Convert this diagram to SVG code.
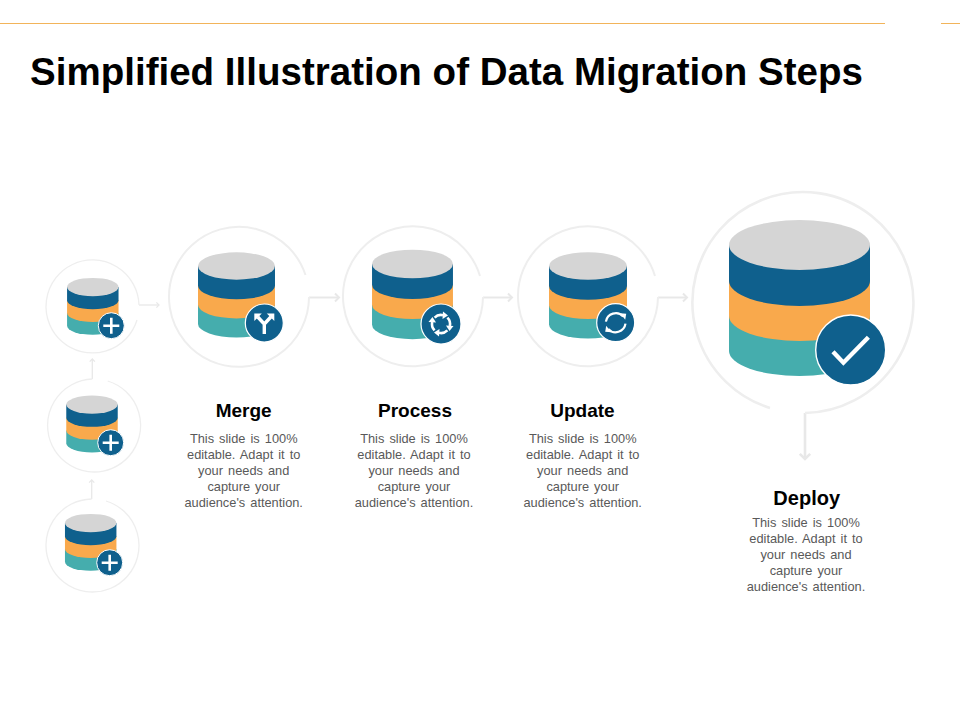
<svg xmlns="http://www.w3.org/2000/svg" width="960" height="720" viewBox="0 0 960 720">
<style>
text{font-family:"Liberation Sans",Arial,sans-serif}
.title{font-size:38.5px;font-weight:700;fill:#000}
.label{font-size:19px;font-weight:700;fill:#000;text-anchor:middle}
.body{font-size:12.8px;fill:#595959;text-anchor:middle;word-spacing:1.5px}
.ring{fill:none;stroke:#eeeeee}
.conn{fill:none;stroke:#e8e8e8;marker-end:url(#chev)}
.s{stroke-width:1.3}.m{stroke-width:2}.l{stroke-width:2.6}
.badge{fill:#0f608d;stroke:#fff}
.ic{fill:none;stroke:#fff;stroke-linejoin:miter}
.icf{fill:#fff}
</style>
<defs>
<marker id="chev" viewBox="-5 -4 6 8" refX="0" refY="0" markerWidth="6" markerHeight="8" orient="auto" markerUnits="strokeWidth"><path d="M-2-2L0 0L-2 2" fill="none" stroke="#e8e8e8" stroke-width="1"/></marker>
<g id="cyl">
<path d="M-70.5 71V106A70.5 25 0 0 0 70.5 106V71Z" fill="#45adad"/>
<path d="M-70.5 36V71A70.5 25 0 0 0 70.5 71V36Z" fill="#f9a94c"/>
<path d="M-70.5 0V36A70.5 25 0 0 0 70.5 36V0Z" fill="#0f608d"/>
<ellipse rx="70.5" ry="25" fill="#d5d5d5"/>
</g>
<g id="plus"><circle r="13" class="badge" stroke-width="1"/><path d="M-8 0H8M0-8V8" class="ic" stroke-width="2.6"/></g>
<path id="seg" d="M-6.4-6.4A9 9 0 0 1 2-8.8" class="ic" stroke-width="2.6"/>
<polygon id="tip" points="2,-12.5 7,-8.5 1.5,-5" class="icf"/>
<g id="q"><use href="#seg"/><use href="#tip"/></g>
<g id="half"><path d="M-9.8-1A10 10 0 0 1 7.5-6.2" class="ic" stroke-width="2.2"/><polygon points="4.5,-9.5 10.5,-9 9.5,-3" class="icf"/></g>
</defs>
<rect width="960" height="720" fill="#fff"/>
<g id="top-rule" fill="#f2b45a"><rect x="0" y="23" width="885" height="1"/><rect x="941" y="23" width="19" height="1"/></g>
<text id="title" class="title" x="30" y="85" textLength="833" lengthAdjust="spacing">Simplified Illustration of Data Migration Steps</text>

<g id="connectors">
<path class="conn s" d="M139 305H159"/>
<path class="conn s" d="M92.3 379V359"/>
<path class="conn s" d="M91.7 499V480"/>
<path class="conn m" d="M309 297.5H339"/>
<path class="conn m" d="M483 297.5H512"/>
<path class="conn m" d="M658 297.5H687"/>
<path class="conn l" d="M805 413V459"/>
</g>

<g id="source-1">
<path class="ring s" d="M139 305A46.5 46.5 0 1 0 137 320"/>
<use href="#cyl" transform="translate(92.8 287) scale(.365)"/>
<use href="#plus" x="111.3" y="325.7"/>
</g>
<g id="source-2">
<path class="ring s" d="M92.3 379A46.5 46.5 0 1 0 107.7 381"/>
<use href="#cyl" transform="translate(92 404.6) scale(.365)"/>
<use href="#plus" x="110.7" y="442.7"/>
</g>
<g id="source-3">
<path class="ring s" d="M91.7 499A46.5 46.5 0 1 0 106 501"/>
<use href="#cyl" transform="translate(90.7 523) scale(.365)"/>
<use href="#plus" x="109.7" y="562.7"/>
</g>

<g id="merge">
<path class="ring m" d="M309 297A70 70 0 1 1 305.5 275"/>
<use href="#cyl" transform="translate(236.5 266) scale(.546)"/>
<g transform="translate(264.3 323)">
<circle r="19" class="badge" stroke-width="1.2"/>
<path d="M0 11V1L-6.5-6M0 1L6.5-6" class="ic" stroke-width="3.4"/>
<polygon points="-10,-9.5 -2.5,-9.5 -10,-2" class="icf"/>
<polygon points="10,-9.5 2.5,-9.5 10,-2" class="icf"/>
</g>
<text class="label" x="243.7" y="417">Merge</text>
<text class="body" x="243.7" y="443">This slide is 100%</text>
<text class="body" x="243.7" y="459">editable. Adapt it to</text>
<text class="body" x="243.7" y="475">your needs and</text>
<text class="body" x="243.7" y="491">capture your</text>
<text class="body" x="243.7" y="507">audience's attention.</text>
</g>

<g id="process">
<path class="ring m" d="M483 297A70 70 0 1 1 480 276"/>
<use href="#cyl" transform="translate(412.5 264) scale(.574)"/>
<g transform="translate(441 324)">
<circle r="20" class="badge" stroke-width="1.2"/>
<use href="#q"/><use href="#q" transform="rotate(90)"/><use href="#q" transform="rotate(180)"/><use href="#q" transform="rotate(270)"/>
</g>
<text class="label" x="415" y="417">Process</text>
<text class="body" x="414" y="443">This slide is 100%</text>
<text class="body" x="414" y="459">editable. Adapt it to</text>
<text class="body" x="414" y="475">your needs and</text>
<text class="body" x="414" y="491">capture your</text>
<text class="body" x="414" y="507">audience's attention.</text>
</g>

<g id="update">
<path class="ring m" d="M658 297A70 70 0 1 1 655 276"/>
<use href="#cyl" transform="translate(588 266) scale(.553)"/>
<g transform="translate(615.7 322.7)">
<circle r="19" class="badge" stroke-width="1.2"/>
<use href="#half"/><use href="#half" transform="rotate(180)"/>
</g>
<text class="label" x="582.5" y="417">Update</text>
<text class="body" x="582.7" y="443">This slide is 100%</text>
<text class="body" x="582.7" y="459">editable. Adapt it to</text>
<text class="body" x="582.7" y="475">your needs and</text>
<text class="body" x="582.7" y="491">capture your</text>
<text class="body" x="582.7" y="507">audience's attention.</text>
</g>

<g id="deploy">
<path class="ring l" d="M805 413A110.5 110.5 0 1 0 770 408"/>
<use href="#cyl" transform="translate(799.5 245)"/>
<g transform="translate(850.7 350)">
<circle r="35" class="badge" stroke-width="1.4"/>
<path d="M-17.7 1.7L-7.3 12.7L17.7-12.7" class="ic" stroke-width="4.4"/>
</g>
<text class="label" style="font-size:20px" x="806.7" y="504.5">Deploy</text>
<text class="body" x="806" y="527">This slide is 100%</text>
<text class="body" x="806" y="543">editable. Adapt it to</text>
<text class="body" x="806" y="559">your needs and</text>
<text class="body" x="806" y="575">capture your</text>
<text class="body" x="806" y="591">audience's attention.</text>
</g>
</svg>
